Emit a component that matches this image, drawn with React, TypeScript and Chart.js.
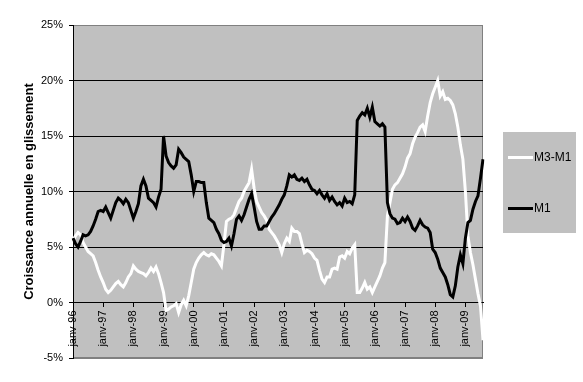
import React, { useEffect, useRef } from "react";
import { Chart, registerables } from "chart.js";

Chart.register(...registerables);

// Categories: monthly, janv-96 .. août-09
const MONTHS = ["janv", "févr", "mars", "avr", "mai", "juin", "juil", "août", "sept", "oct", "nov", "déc"];
const YEARS = ["96", "97", "98", "99", "00", "01", "02", "03", "04", "05", "06", "07", "08", "09"];
const MONTHS_IN_LAST_YEAR = 8;

const CATEGORIES: string[] = [];
YEARS.forEach((y, yi) => {
  const n = yi === YEARS.length - 1 ? MONTHS_IN_LAST_YEAR : 12;
  for (let m = 0; m < n; m++) CATEGORIES.push(`${MONTHS[m]}-${y}`);
});

const SERIES_NAMES = ["M3-M1", "M1"];

// Year-on-year growth, %
const M3_M1 = [
  5.6, 6.0, 6.3, 6.1, 5.4, 5.0, 4.6, 4.4, 4.2, 3.6, 2.9, 2.3,
  1.8, 1.2, 0.9, 1.1, 1.4, 1.7, 1.9, 1.6, 1.4, 1.8, 2.3, 2.6,
  3.3, 3.0, 2.8, 2.7, 2.6, 2.4, 2.7, 3.1, 2.8, 3.2, 2.6, 1.8,
  0.9, -0.7, -0.6, -0.4, -0.3, -0.1, -0.9, -0.2, 0.2, -0.3, 0.6, 1.8,
  3.0, 3.6, 4.0, 4.3, 4.5, 4.3, 4.2, 4.4, 4.3, 4.0, 3.7, 3.3,
  5.2, 7.3, 7.5, 7.6, 7.9, 8.5, 9.1, 9.4, 10.0, 10.4, 10.8, 12.0,
  10.3, 9.1, 8.6, 8.1, 7.8, 7.4, 6.6, 6.3, 6.0, 5.6, 5.2, 4.5,
  5.3, 5.8, 5.5, 6.7, 6.4, 6.4, 6.2, 5.3, 4.5, 4.7, 4.6, 4.4,
  4.0, 3.8, 2.9, 2.1, 1.8, 2.3, 2.3, 3.0, 3.1, 3.0, 4.1, 4.2,
  4.0, 4.6, 4.4, 4.9, 5.2, 0.9, 0.9, 1.3, 1.8, 1.2, 1.4, 0.9,
  1.4, 1.9, 2.4, 3.1, 3.6, 7.8, 9.0, 10.2, 10.6, 10.8, 11.2, 11.6,
  12.2, 13.0, 13.4, 14.3, 14.9, 15.3, 15.8, 16.0, 15.4, 16.8, 18.0, 18.8,
  19.4, 20.0, 18.6, 19.0, 18.3, 18.4, 18.2, 17.8, 17.0, 15.8, 14.2, 12.9,
  10.0, 6.0, 4.5, 3.4, 2.1, 0.8, -0.3, -3.4,
];

const M1 = [
  5.8, 5.3, 5.0, 5.5, 6.1, 6.0, 6.1, 6.4, 6.9, 7.5, 8.2, 8.3,
  8.2, 8.6, 8.1, 7.6, 8.3, 9.0, 9.4, 9.2, 8.9, 9.3, 9.0, 8.3,
  7.6, 8.2, 8.9, 10.5, 11.1, 10.5, 9.4, 9.2, 9.0, 8.6, 9.5, 10.2,
  15.0, 13.2, 12.6, 12.3, 12.1, 12.4, 13.8, 13.5, 13.1, 12.9, 12.7, 11.5,
  10.0, 10.9, 10.9, 10.8, 10.8, 9.0, 7.6, 7.4, 7.2, 6.6, 6.2, 5.6,
  5.4, 5.5, 5.8, 5.1, 6.2, 7.5, 7.8, 7.4, 7.9, 8.6, 9.3, 9.8,
  8.6, 7.3, 6.6, 6.6, 6.9, 6.9, 7.3, 7.7, 8.0, 8.4, 8.8, 9.3,
  9.7, 10.5, 11.5, 11.3, 11.5, 11.1, 11.0, 11.2, 10.9, 11.1, 10.6, 10.2,
  10.1, 9.8, 10.1, 9.7, 9.4, 9.8, 9.2, 9.5, 9.1, 8.8, 9.0, 8.7,
  9.4, 9.0, 9.1, 8.9, 9.7, 16.4, 16.8, 17.1, 16.9, 17.5, 16.7, 17.6,
  16.3, 16.1, 15.9, 16.1, 15.8, 9.0, 8.0, 7.6, 7.5, 7.1, 7.2, 7.6,
  7.3, 7.7, 7.3, 6.7, 6.5, 6.9, 7.4, 7.0, 6.8, 6.7, 6.3, 4.8,
  4.5, 3.9, 3.1, 2.7, 2.3, 1.6, 0.7, 0.5, 1.5, 3.2, 4.3, 3.5,
  5.8, 7.2, 7.4, 8.4, 9.1, 9.6, 11.2, 12.9,
];

const Y_MIN = -5;
const Y_MAX = 25;
const Y_STEP = 5;
const Y_TITLE = "Croissance annuelle en glissement";

const FONT = "'Liberation Sans', Arial, sans-serif";

const plotBackground = {
  id: "plotBackground",
  beforeDraw(chart: any) {
    const { ctx, chartArea: a } = chart;
    ctx.save();
    ctx.fillStyle = "#C0C0C0";
    ctx.fillRect(a.left, a.top, a.right - a.left, a.bottom - a.top);
    ctx.strokeStyle = "#808080";
    ctx.lineWidth = 1;
    ctx.strokeRect(a.left + 0.5, a.top + 0.5, a.right - a.left - 1, a.bottom - a.top - 1);
    ctx.restore();
  },
};

const boxLegend = {
  id: "boxLegend",
  afterDraw(chart: any) {
    const { ctx, chartArea: a } = chart;
    const left = a.right + 20;
    const top = 132;
    const w = 73;
    const h = 101;
    ctx.save();
    ctx.fillStyle = "#C0C0C0";
    ctx.fillRect(left, top, w, h);
    const rows = [157.5, 208.5];
    chart.data.datasets.forEach((ds: any, i: number) => {
      const y = rows[i];
      ctx.strokeStyle = ds.borderColor;
      ctx.lineWidth = 3;
      ctx.beginPath();
      ctx.moveTo(left + 5, y);
      ctx.lineTo(left + 30, y);
      ctx.stroke();
      ctx.fillStyle = "#000";
      ctx.font = `12px ${FONT}`;
      ctx.textBaseline = "middle";
      ctx.textAlign = "left";
      ctx.fillText(ds.label, left + 31, y);
    });
    ctx.restore();
  },
};

export default function App() {
  const ref = useRef<HTMLCanvasElement>(null);

  useEffect(() => {
    if (!ref.current) return;
    const chart = new Chart(ref.current, {
      type: "line",
      data: {
        labels: CATEGORIES,
        datasets: [
          {
            label: SERIES_NAMES[0],
            data: M3_M1,
            borderColor: "#FFFFFF",
            backgroundColor: "#FFFFFF",
            borderWidth: 3,
            pointRadius: 0,
            tension: 0,
            order: 1,
          },
          {
            label: SERIES_NAMES[1],
            data: M1,
            borderColor: "#000000",
            backgroundColor: "#000000",
            borderWidth: 3,
            pointRadius: 0,
            tension: 0,
            order: 0,
          },
        ],
      },
      options: {
        responsive: false,
        animation: false,
        devicePixelRatio: 1,
        layout: { padding: { top: 25, right: 100, bottom: 24, left: 0 } },
        plugins: {
          legend: { display: false },
          tooltip: { enabled: false },
        },
        scales: {
          x: {
            type: "category",
            position: { y: 0 } as any,
            offset: false,
            afterBuildTicks: (scale: any) => {
              scale.ticks = scale.ticks.filter((t: any) => t.value % 12 === 0);
            },
            grid: {
              drawOnChartArea: false,
              drawTicks: true,
              tickLength: 4,
              tickColor: "#000",
            },
            border: { display: true, color: "#000", width: 1 },
            ticks: {
              autoSkip: false,
              minRotation: 90,
              maxRotation: 90,
              padding: 4,
              color: "#000",
              font: { family: FONT, size: 11 },
            },
          },
          y: {
            type: "linear",
            min: Y_MIN,
            max: Y_MAX,
            afterFit: (scale: any) => {
              scale.width = 73;
            },
            grid: {
              color: (c: any) =>
                c.tick && (c.tick.value === Y_MAX || c.tick.value === Y_MIN) ? "#808080" : "#000",
              tickColor: "#000",
              tickLength: 4,
              lineWidth: 1,
            },
            border: { display: true, color: "#000", width: 1 },
            ticks: {
              stepSize: Y_STEP,
              padding: 6,
              color: "#000",
              font: { family: FONT, size: 11 },
              callback: (v: any) => `${v}%`,
            },
            title: {
              display: true,
              text: Y_TITLE,
              color: "#000",
              font: { family: FONT, size: 13, weight: "bold" },
              padding: { top: 22, bottom: 0 },
            },
          },
        },
      },
      plugins: [plotBackground, boxLegend],
    });
    return () => chart.destroy();
  }, []);

  return (
    <div style={{ position: "fixed", left: 0, top: 0, width: 583, height: 382, background: "#fff" }}>
      <canvas ref={ref} width={583} height={382} />
    </div>
  );
}
